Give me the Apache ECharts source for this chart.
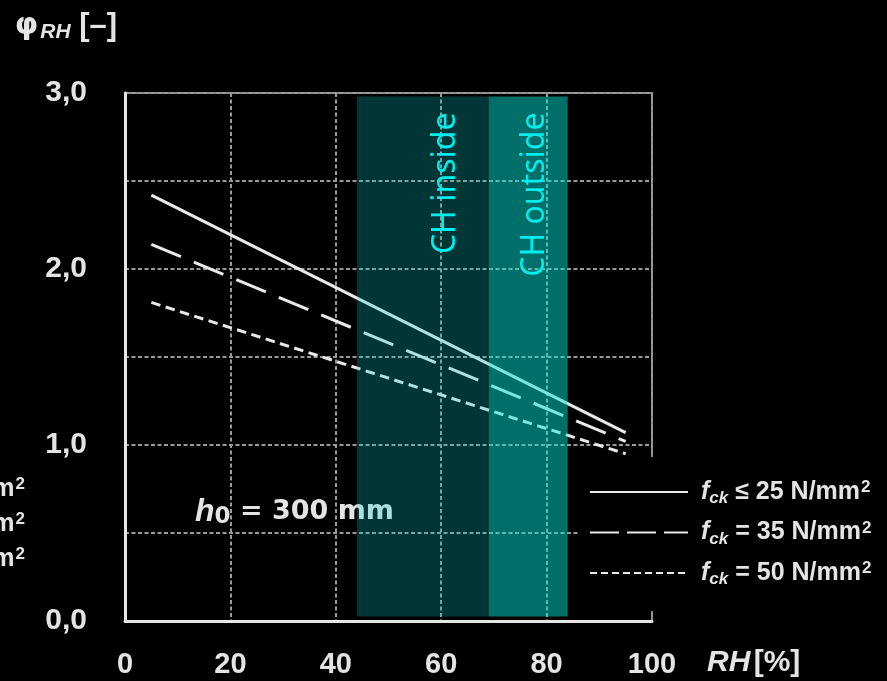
<!DOCTYPE html>
<html>
<head>
<meta charset="utf-8">
<script src="https://cdn.jsdelivr.net/npm/echarts@6/dist/echarts.min.js"></script>
<style>
  html, body { margin: 0; padding: 0; background: #000; }
  #chart { width: 887px; height: 681px; }
</style>
</head>
<body>
<div id="chart"></div>
<script>
// Relative humidity [%] at the ends of each curve
const rhPoints = [5, 95];
// Creep coefficient factor phi_RH for h0 = 300 mm
const phiFck25 = [2.42, 1.07];
const phiFck35 = [2.14, 1.02];
const phiFck50 = [1.81, 0.95];

const seriesNames = ['fck ≤ 25 N/mm2', 'fck = 35 N/mm2', 'fck = 50 N/mm2'];
const legendRest = ['≤ 25 N/mm', '= 35 N/mm', '= 50 N/mm'];

// Indoor / outdoor humidity ranges in Switzerland
const bandNames = ['CH inside', 'CH outside'];
const bandFrom = [44, 69];
const bandTo = [69, 84];

const yTickLabels = { 0: '0,0', 1: '1,0', 2: '2,0', 3: '3,0' };

const pairs = ys => rhPoints.map((x, i) => [x, ys[i]]);

const lineColor = '#e9e9e9';
const textColor = '#e4e4e4';
const baseFont = 'Liberation Sans, Arial, sans-serif';
const wideFont = 'DejaVu Sans, sans-serif';

const chart = echarts.init(document.getElementById('chart'), null, { renderer: 'canvas' });

// caption pieces: italic f, subscript ck, value, raised 2
const captionRich = {
  f: { color: textColor, fontFamily: baseFont, fontWeight: 'bold', fontStyle: 'italic', fontSize: 25, lineHeight: 30 },
  ck: { color: textColor, fontFamily: baseFont, fontWeight: 'bold', fontStyle: 'italic', fontSize: 17, lineHeight: 18, verticalAlign: 'bottom' },
  t: { color: textColor, fontFamily: baseFont, fontWeight: 'bold', fontSize: 25, lineHeight: 30 },
  sq: { color: textColor, fontFamily: baseFont, fontWeight: 'bold', fontSize: 17, lineHeight: 17, verticalAlign: 'top', padding: [2, 0, 0, 1] }
};
const caption = i => '{f|f}{ck|ck}{t| ' + legendRest[i] + '}{sq|2}';

const option = {
  backgroundColor: '#000',
  animation: false,
  grid: {
    left: 125, right: 235, top: 93, bottom: 60,
    show: true, borderColor: '#8c8c8c', borderWidth: 2, backgroundColor: 'transparent'
  },
  xAxis: {
    type: 'value', min: 0, max: 100, interval: 20,
    axisLine: { show: true, onZero: false, lineStyle: { color: '#e6e6e6', width: 3 } },
    axisTick: { show: false },
    axisLabel: { color: textColor, fontFamily: baseFont, fontWeight: 'bold', fontSize: 29, margin: 29 },
    splitLine: { show: true, lineStyle: { color: '#9a9a9a', width: 2, type: [4, 2.5] } },
    name: '{rh|RH} {u|[%]}',
    nameLocation: 'end',
    nameGap: 55,
    nameTextStyle: {
      align: 'left', verticalAlign: 'top', padding: [27, 0, 0, 0],
      rich: {
        rh: { color: textColor, fontFamily: baseFont, fontWeight: 'bold', fontStyle: 'italic', fontSize: 30 },
        u: { color: textColor, fontFamily: baseFont, fontWeight: 'bold', fontSize: 30 }
      }
    }
  },
  yAxis: {
    type: 'value', min: 0, max: 3, interval: 0.5,
    axisLine: { show: true, onZero: false, lineStyle: { color: '#e6e6e6', width: 3 } },
    axisTick: { show: false },
    axisLabel: {
      color: textColor, fontFamily: baseFont, fontWeight: 'bold', fontSize: 30, margin: 38,
      padding: [10, 0, 0, 0],
      formatter: v => yTickLabels[v] !== undefined ? yTickLabels[v] : ''
    },
    splitLine: { show: true, lineStyle: { color: '#9a9a9a', width: 2, type: [4, 2.5] } },
    name: '{p|φ}{s|RH}{u| [–]}',
    nameLocation: 'end',
    nameGap: 50,
    nameTextStyle: {
      align: 'center', verticalAlign: 'bottom', padding: [0, 118, 0, 0],
      rich: {
        p: { color: textColor, fontFamily: wideFont, fontWeight: 'bold', fontSize: 30, lineHeight: 34 },
        s: { color: textColor, fontFamily: baseFont, fontWeight: 'bold', fontStyle: 'italic', fontSize: 21, lineHeight: 34, verticalAlign: 'bottom', padding: [0, 0, 0, 2] },
        u: { color: textColor, fontFamily: baseFont, fontWeight: 'bold', fontSize: 31, lineHeight: 34 }
      }
    }
  },
  legend: {
    orient: 'vertical',
    left: 580, top: 457,
    padding: [20, 12, 23, 9],
    backgroundColor: '#000',
    itemWidth: 98, itemHeight: 26, itemGap: 10.5,
    itemStyle: { opacity: 0 },
    z: 6,
    data: [
      { name: seriesNames[0], lineStyle: { type: 'solid' } },
      { name: seriesNames[1], lineStyle: { type: [29, 8] } },
      { name: seriesNames[2], lineStyle: { type: [7, 4] } }
    ],
    formatter: name => '{gap|}' + caption(seriesNames.indexOf(name)),
    textStyle: { rich: Object.assign({ gap: { width: 8 } }, captionRich) }
  },
  graphic: [
    {
      type: 'text', left: 195, top: 496, z: 1,
      style: {
        text: '{h|h}{o|0}{t| = 300 mm}',
        rich: {
          h: { fill: textColor, font: 'italic bold 32px ' + baseFont, lineHeight: 34 },
          o: { fill: textColor, font: 'bold 23px ' + wideFont, lineHeight: 24, verticalAlign: 'bottom' },
          t: { fill: textColor, font: 'bold 27px ' + wideFont, lineHeight: 34 }
        }
      }
    },
    // clipped copy of the legend captions along the left edge
    ...legendRest.map((t, i) => ({
      type: 'text', right: 862, top: 474 + i * 35, z: 1,
      style: {
        text: caption(i),
        rich: Object.fromEntries(Object.entries(captionRich).map(([k, v]) => [k, Object.assign({}, v, { fill: textColor })]))
      }
    }))
  ],
  series: [
    {
      name: seriesNames[0], type: 'line', data: pairs(phiFck25), symbol: 'none', z: 2,
      lineStyle: { color: lineColor, width: 3, type: 'solid' }, itemStyle: { color: lineColor }
    },
    {
      name: seriesNames[1], type: 'line', data: pairs(phiFck35), symbol: 'none', z: 2,
      lineStyle: { color: lineColor, width: 3, type: [32, 14] }, itemStyle: { color: lineColor }
    },
    {
      name: seriesNames[2], type: 'line', data: pairs(phiFck50), symbol: 'none', z: 2,
      lineStyle: { color: lineColor, width: 3, type: [9.5, 5.5] }, itemStyle: { color: lineColor }
    },
    {
      name: 'bands', type: 'line', data: [], z: 4,
      markArea: {
        silent: true,
        z: 4,
        label: {
          show: true, rotate: 90, align: 'right', verticalAlign: 'middle',
          color: '#00eeee', fontFamily: 'Noto Sans, Open Sans, sans-serif', fontSize: 32
        },
        data: bandNames.map((n, i) => [
          {
            name: n, xAxis: bandFrom[i], yAxis: 0.025,
            itemStyle: { color: i === 0 ? 'rgba(0,212,208,0.26)' : 'rgba(0,229,219,0.48)' },
            label: { position: i === 0 ? [89, 16] : [46, 16] }
          },
          { xAxis: bandTo[i], yAxis: 2.98 }
        ])
      }
    }
  ]
};

chart.setOption(option);
</script>
</body>
</html>
